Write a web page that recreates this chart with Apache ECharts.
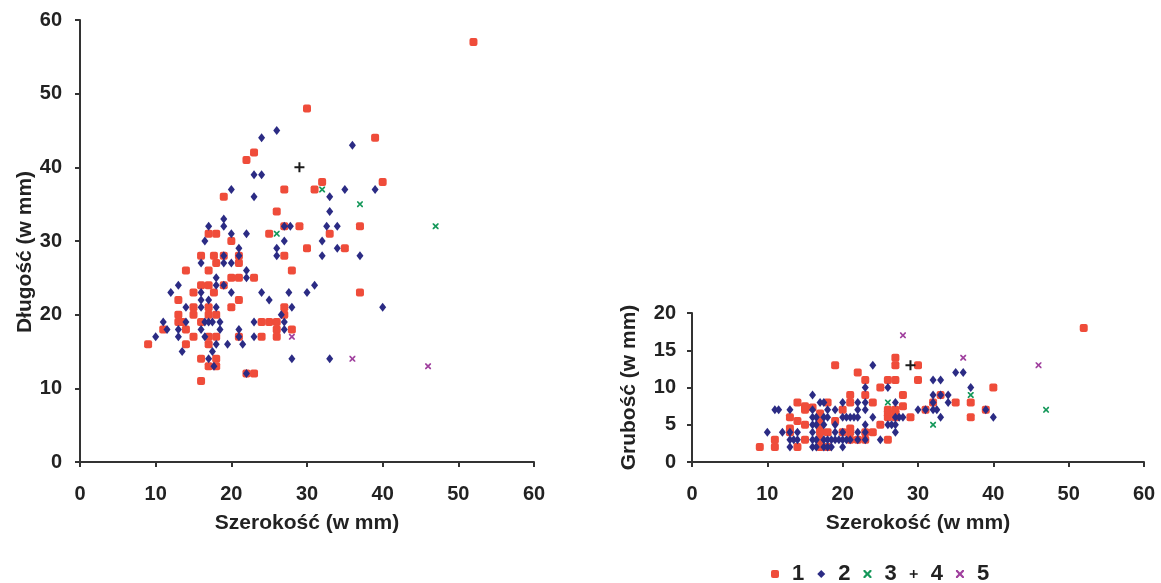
<!DOCTYPE html>
<html>
<head>
<meta charset="UTF-8">
<title>Szerokość - długość - grubość</title>
<style>
    *{margin:0;padding:0;}
    #chart{width:1161px;height:583px;background:#fff;}
</style>
<script src="https://cdn.jsdelivr.net/npm/echarts@6/dist/echarts.min.js"></script>
</head>
<body>
<div id="chart"></div>
<script>
    const groups = ['1', '2', '3', '4', '5'];

    // lewy wykres: [szerokość, długość]
    const dlugosc1 = [[52,57],[30,48],[39,44],[23,42],[22,41],[32,38],[40,38],[27,37],[31,37],[19,36],[26,34],
        [17,31],[18,31],[25,31],[33,31],[27,32],[29,32],[37,32],[20,30],[30,29],[35,29],[16,28],[17.7,28],[19,28],
        [21,28],[27,28],[18,27],[21,27],[14,26],[17,26],[28,26],[20,25],[21,25],[23,25],[16,24],[17,24],[19,24],
        [15,23],[17.7,23],[37,23],[13,22],[21,22],[15,21],[17,21],[20,21],[27,21],[13,20],[15,20],[17,20],[18,20],
        [27,20],[13,19],[13.5,19],[16,19],[24,19],[25,19],[26,19],[11,18],[14,18],[26,18],[28,18],[15,17],[17,17],
        [18,17],[21,17],[24,17],[26,17],[9,16],[14,16],[17,16],[16,14],[18,14],[17,13],[18,13],[22,12],[23,12],[16,11]];
    const dlugosc2 = [[26,45],[24,44],[36,43],[23,39],[24,39],[20,37],[35,37],[39,37],[23,36],[33,36],[33,34],[19,33],
        [17,32],[19,32],[27,32],[27.8,32],[32.6,32],[34,32],[20,31],[22,31],[16.5,30],[27,30],[32,30],[21,29],[26,29],
        [34,29],[19,28],[21,28],[26,28],[32,28],[37,28],[16,27],[19,27],[20,27],[22,26],[18,25],[22,25],[13,24],[18,24],
        [19,24],[31,24],[12,23],[16,23],[20,23],[24,23],[27.6,23],[30,23],[16,22],[17,22],[25,22],[14,21],[16,21],[18,21],
        [28,21],[40,21],[26.6,20],[11,19],[14,19],[16.5,19],[17,19],[17.5,19],[18.5,19],[23,19],[27,19],[11.5,18],[13,18],
        [16,18],[18.5,18],[21,18],[27,18],[10,17],[13,17],[16.5,17],[21,17],[23,17],[18,16],[19.5,16],[21.5,16],[13.5,15],
        [17.5,15],[17,14],[28,14],[33,14],[17.7,13],[22,12]];
    const dlugosc3 = [[32,37],[37,35],[47,32],[26,31]];
    const dlugosc4 = [[29,40]];
    const dlugosc5 = [[28,17],[36,14],[46,13]];

    // prawy wykres: [szerokość, grubość]
    const grubosc1 = [[9,2],[11,2],[11,3],[13,6],[13,4.5],[13,4],[14,8],[14,5.5],[14,2],[15,7.5],[15,7],[15,5],[15,3],
        [16,7.3],[17,6.5],[17,6],[17,5.5],[17,5],[17,4.5],[17,4],[17,3],[17,2],[18,8],[18,4],[18,2],[19,13],[19,5.5],
        [20,7],[20,4],[21,9],[21,8],[21,4.5],[21,4],[21,3],[22,12],[22,3],[23,11],[23,9],[23,4],[23,3],[24,8],[24,4],
        [25,10],[25,5],[26,11],[26,7],[26,6.5],[26,6],[26,3],[27,14],[27,13],[27,11],[27,7],[27,6.5],[27,6],[28,9],
        [28,7.5],[29,6],[30,13],[30,11],[31,7],[32,8],[33,9],[35,8],[37,8],[37,6],[39,7],[40,10],[52,18]];
    const grubosc2 = [[10,4],[11,7],[11.5,7],[12,4],[13,7],[13,4],[13,3],[13,2],[13.5,3],[14,3],[14,4],
        [16,9],[16,7],[16,6],[16,5],[16,4],[16,3],[16,2],[16.5,6],[16.5,5],[16.5,3],[16.5,2],[17,8],[17.5,8],[17.5,6],
        [17.5,5],[17.5,3],[17.5,2],[18,7],[18,6],[18,3],[18,2],[18.5,3],[18.5,2],[19,7],[19,5],[19,4],[19,3],[19.5,3],
        [20,8],[20,6],[20,4],[20,3],[20,2],[20.5,3],[20.5,6],[21,6],[21,3],[21.5,6],[22,8],[22,7],[22,6],[22,4],[22,3],
        [23,10],[23,8],[23,7],[23,5],[23,4],[23,3],[24,13],[24,6],[25,3],[26,10],[26,5],[26.5,5],[27,8],[27,6],[27,5],
        [27,4],[27.5,6],[28,6],[30,7],[31,7],[32,11],[32,9],[32,8],[32,7],[32.5,7],[33,11],[33,9],[33,6],[34,9],[34,8],
        [35,12],[36,12],[37,10],[39,7],[40,6]];
    const grubosc3 = [[26,8],[32,5],[37,9],[47,7]];
    const grubosc4 = [[29,13]];
    const grubosc5 = [[28,17],[36,14],[46,13]];

    const lewe = [dlugosc1, dlugosc2, dlugosc3, dlugosc4, dlugosc5];
    const prawe = [grubosc1, grubosc2, grubosc3, grubosc4, grubosc5];

    const krzyzyk = 'path://M0,0 L2,0 L5,3 L8,0 L10,0 L10,2 L7,5 L10,8 L10,10 L8,10 L5,7 L2,10 L0,10 L0,8 L3,5 L0,2 Z';
    const plus = 'path://M4,0 H6 V4 H10 V6 H6 V10 H4 V6 H0 V4 H4 Z';
    const znaczniki = [
        {symbol: 'roundRect', size: 8, color: '#ef4c3a'},
        {symbol: 'diamond', size: [7, 9], color: '#2b2b84'},
        {symbol: krzyzyk, size: 6, color: '#15985a'},
        {symbol: plus, size: 10, color: '#1a1a1a'},
        {symbol: krzyzyk, size: 6, color: '#a0409e'}
    ];

    const font = 'Liberation Sans, Arial, sans-serif';
    const osLinia = {lineStyle: {color: '#333', width: 2}};
    const osTick = {show: true, length: 5, lineStyle: {color: '#333', width: 2}};
    const etykiety = {color: '#222', fontSize: 20, fontWeight: 'bold', fontFamily: font};
    const nazwa = {color: '#222', fontSize: 21, fontWeight: 'bold', fontFamily: font};

    function osX(idx) {
        return {
            gridIndex: idx, type: 'value', min: 0, max: 60, interval: 10,
            name: 'Szerokość (w mm)', nameLocation: 'middle', nameGap: 51, nameTextStyle: nazwa,
            axisLine: osLinia, axisTick: osTick, axisLabel: Object.assign({margin: 22}, etykiety),
            splitLine: {show: false}
        };
    }

    let series = [];
    groups.forEach((g, i) => {
        let z = znaczniki[i];
        series.push({
            name: g, type: 'scatter', xAxisIndex: 0, yAxisIndex: 0, data: lewe[i],
            symbol: z.symbol, symbolSize: z.size, itemStyle: {color: z.color, opacity: 1}
        });
        series.push({
            name: g, type: 'scatter', xAxisIndex: 1, yAxisIndex: 1, data: prawe[i],
            symbol: z.symbol, symbolSize: z.size, itemStyle: {color: z.color, opacity: 1}
        });
    });

    let mychart = echarts.init(document.getElementById('chart'));
    mychart.setOption({
        animation: false,
        backgroundColor: '#fff',
        grid: [
            {left: 80, top: 20, width: 454, height: 442},
            {left: 692, top: 313, width: 452, height: 149}
        ],
        xAxis: [osX(0), osX(1)],
        yAxis: [
            {
                gridIndex: 0, type: 'value', min: 0, max: 60, interval: 10,
                name: 'Długość (w mm)', nameLocation: 'middle', nameGap: 40,
                nameTextStyle: Object.assign({padding: [0, 22, 0, 0]}, nazwa),
                axisLine: Object.assign({show: true}, osLinia), axisTick: osTick,
                axisLabel: Object.assign({margin: 18}, etykiety), splitLine: {show: false}
            },
            {
                gridIndex: 1, type: 'value', min: 0, max: 20, interval: 5,
                name: 'Grubość (w mm)', nameLocation: 'middle', nameGap: 52, nameTextStyle: nazwa,
                axisLine: Object.assign({show: true}, osLinia), axisTick: osTick,
                axisLabel: Object.assign({margin: 16}, etykiety), splitLine: {show: false}
            }
        ],
        legend: {
            data: groups,
            left: 766, top: 558,
            itemWidth: 8, itemHeight: 8, itemGap: 13,
            textStyle: {color: '#222', fontSize: 22, fontWeight: 'bold', fontFamily: font, padding: [0, 0, 0, 8]}
        },
        series
    });
</script>
</body>
</html>
